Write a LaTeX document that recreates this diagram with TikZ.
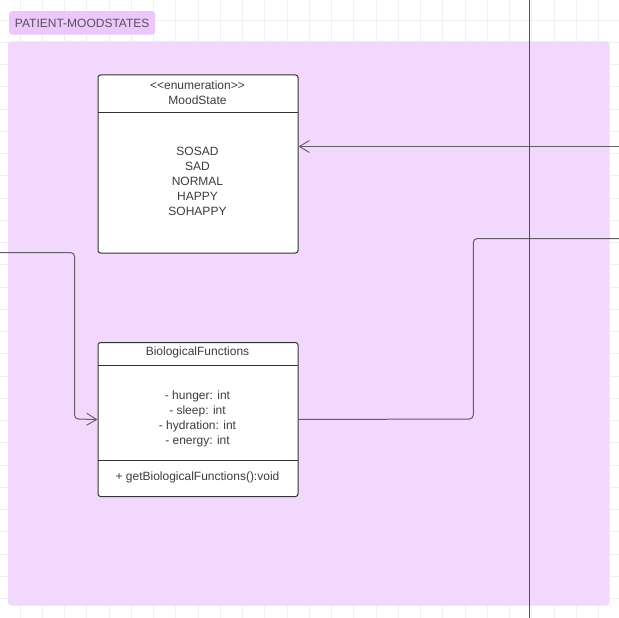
\documentclass[tikz,border=0pt]{standalone}
\usepackage{fontspec}
\setmainfont{Liberation Sans}[Ligatures=TeXOff]
\usetikzlibrary{arrows.meta}
\definecolor{gridc}{HTML}{F0F0F0}
\definecolor{contfill}{HTML}{F2D8FC}
\definecolor{labfill}{HTML}{EBC7FA}
\definecolor{labtext}{HTML}{5A4E60}
\definecolor{boxline}{HTML}{333333}
\definecolor{txt}{HTML}{3C3C3C}
\definecolor{connc}{HTML}{645C68}
\tikzset{
  classbox/.style={draw=boxline, line width=1pt, fill=white, rounded corners=2.5pt, inner sep=0pt, anchor=north west},
  divider/.style={draw=boxline, line width=1pt},
  txtnode/.style={inner sep=0pt, text=txt, font=\fontsize{12}{15}\selectfont, align=center},
  conn/.style={draw=connc, line width=1pt, rounded corners=4pt},
  openarrow/.style={-{Straight Barb[length=10pt,width=12pt,line width=0.9pt]}},
}
\begin{document}
\begin{tikzpicture}[x=1pt,y=-1pt]
\useasboundingbox (0,0) rectangle (619,618);
\fill[white] (0,0) rectangle (619,618);
% grid
\foreach \i in {0,...,27} {
  \draw[gridc, line width=0.9pt] ({20+22.25*\i},0) -- ({20+22.25*\i},618);
  \draw[gridc, line width=0.9pt] (0,{20+22.25*\i}) -- (619,{20+22.25*\i});
}
% container
\fill[contfill, rounded corners=3pt] (8,41.5) rectangle (609.5,605.5);
\node[fill=labfill, rounded corners=3pt, anchor=north west, minimum width=146pt, minimum height=23.5pt, inner sep=0pt] (lab) at (9,11) {};
\node[inner sep=0pt, text=labtext, font=\fontsize{12}{14}\selectfont] (labtxt) at (lab.center) {PATIENT-MOODSTATES};
% MoodState class
\node[classbox, minimum width=200pt, minimum height=178pt] (ms) at (97.5,74.5) {};
\draw[divider] (97.5,112.7) -- (297.5,112.7);
\node[txtnode] (msst) at (197.5,85) {<<enumeration>>};
\node[txtnode] (msname) at (197.5,100.5) {MoodState};
\node[txtnode] (msvals) at (197.5,181) {SOSAD\\SAD\\NORMAL\\HAPPY\\SOHAPPY};
% BiologicalFunctions class
\node[classbox, minimum width=200pt, minimum height=154pt] (bf) at (97.5,342) {};
\draw[divider] (97.5,365) -- (297.5,365);
\draw[divider] (97.5,460.5) -- (297.5,460.5);
\node[txtnode] (bfname) at (197.5,352.5) {BiologicalFunctions};
\node[txtnode] (bfattr) at (197.5,419) {- hunger: int\\- sleep: int\\- hydration: int\\- energy: int};
\node[txtnode] (bfmeth) at (197.5,477) {+ getBiologicalFunctions():void};
% free ends
\coordinate (inL) at (0,252.5);
\coordinate (inR) at (619,146.5);
\coordinate (outR) at (619,238.5);
\coordinate (vtop) at (529.5,0);
\coordinate (vbot) at (529.5,618);
% connectors
\draw[conn, openarrow] (inL) -- (74.5,252.5) -- (74.5,419) -- (bf.west);
\draw[conn, openarrow] (inR) -- (inR -| ms.east);
\draw[conn] (bf.east) -- (473.3,419) -- (473.3,238.5) -- (outR);
\draw[draw=connc!85!black, line width=1pt] (vtop) -- (vbot);
\end{tikzpicture}
\end{document}
